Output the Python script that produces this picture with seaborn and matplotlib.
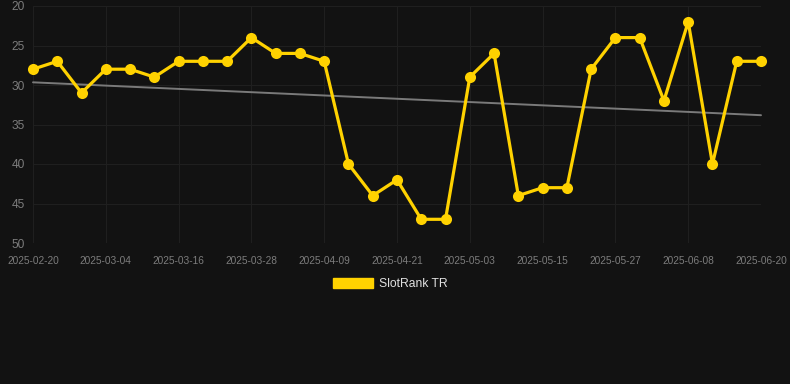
import matplotlib
matplotlib.use("Agg")
import matplotlib.pyplot as plt
import seaborn as sns
import numpy as np
import pandas as pd
from matplotlib.patches import Patch

start_date = "2025-02-20"
end_date = "2025-06-20"
step_days = 4
ranks = [28, 27, 31, 28, 28, 29, 27, 27, 27, 24, 26, 26, 27, 40, 44, 42, 47, 47,
         29, 26, 44, 43, 43, 28, 24, 24, 32, 22, 40, 27, 27]
tick_labels = ["2025-02-20", "2025-03-04", "2025-03-16", "2025-03-28", "2025-04-09",
               "2025-04-21", "2025-05-03", "2025-05-15", "2025-05-27", "2025-06-08",
               "2025-06-20"]
y_ticks = [20, 25, 30, 35, 40, 45, 50]
series_name = "SlotRank TR"

dates = pd.date_range(start_date, end_date, freq=f"{step_days}D")
t0 = pd.Timestamp(start_date)
df = pd.DataFrame({"date": dates, "rank": ranks})
df["day"] = (df["date"] - t0).dt.days
tick_pos = [(pd.Timestamp(t) - t0).days for t in tick_labels]

bg = "#121212"
grid_c = "#1f1f1f"
sns.set_theme(style="dark")
plt.rcParams['font.family'] = ['Liberation Sans', 'DejaVu Sans']

fig = plt.figure(figsize=(7.9, 3.84), dpi=100, facecolor=bg)
ax = fig.add_axes([33/790, 1 - 243/384, (761 - 33)/790, (243 - 6)/384])
ax.set_facecolor(bg)

# trend line (least squares fit of the series)
coef = np.polyfit(df["day"], df["rank"], 1)
trend = pd.DataFrame({"day": [df["day"].min(), df["day"].max()]})
trend["rank"] = np.polyval(coef, trend["day"])
sns.lineplot(data=trend, x="day", y="rank", ax=ax, color="#7a7a7a", linewidth=1.4,
             legend=False, zorder=2)

sns.lineplot(data=df, x="day", y="rank", ax=ax, color="#FFD200", linewidth=2.3,
             marker="o", markersize=8, markeredgewidth=0, zorder=3, legend=False)
for ln in ax.lines:
    ln.set_clip_on(False)

ax.set_xlim(0, 120)
ax.set_ylim(50, 20)
ax.set_yticks(y_ticks)
ax.set_xticks(tick_pos)
ax.set_xticklabels(tick_labels)
ax.grid(True, color=grid_c, linewidth=0.8)
ax.tick_params(axis="x", colors=grid_c, labelcolor="#7c7c7c", labelsize=7.3,
               length=5, width=0.8, pad=4)
ax.tick_params(axis="y", colors=grid_c, labelcolor="#7c7c7c", labelsize=8.6,
               length=0, pad=6)
for s in ax.spines.values():
    s.set_visible(False)
ax.set_xlabel("")
ax.set_ylabel("")
ax.set_axisbelow(True)

handle = Patch(facecolor="#FFD200", edgecolor="#FFD200")
fig.legend([handle], [series_name], loc="center",
           bbox_to_anchor=(0.5 - 5/790, 1 - 284/384),
           frameon=False, handlelength=3.3, handleheight=0.9, fontsize=8.7,
           labelcolor="#e0e0e0", handletextpad=0.5)

fig.savefig("out.png", dpi=100, facecolor=bg)
